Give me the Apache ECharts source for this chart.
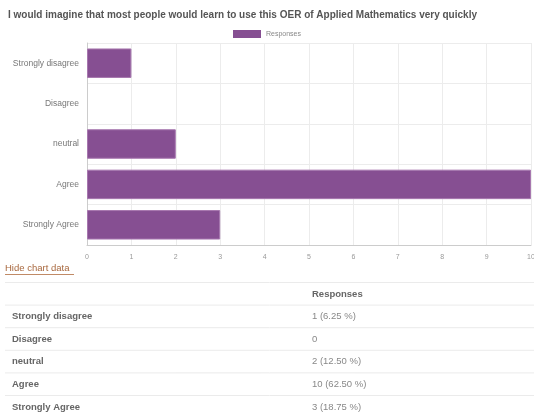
<!DOCTYPE html>
<html><head><meta charset="utf-8">
<script src="https://cdn.jsdelivr.net/npm/echarts@6/dist/echarts.min.js"></script>
<style>html,body{margin:0;padding:0;background:#fff}#c{width:534px;height:414px}</style>
</head><body><div id="c"></div>
<script>
const title = 'I would imagine that most people would learn to use this OER of Applied Mathematics very quickly';
const seriesName = 'Responses';
const categories = ['Strongly disagree', 'Disagree', 'neutral', 'Agree', 'Strongly Agree'];
const values = [1, 0, 2, 10, 3];
const xTicks = [0, 1, 2, 3, 4, 5, 6, 7, 8, 9, 10];

const total = values.reduce((a, b) => a + b, 0);
const cellText = values.map(v => v === 0 ? '0' : v + ' (' + (v / total * 100).toFixed(2) + ' %)');

const barColor = '#864f92';
const graphics = [];
graphics.push({type:'text', left:5, top:263, style:{text:'Hide chart data', fill:'#a8683e', font:'9.5px "Liberation Sans", Arial'}});
graphics.push({type:'line', shape:{x1:5,y1:274.5,x2:74,y2:274.5}, style:{stroke:'#c08a66', lineWidth:1}});
const rowTop = 282.5, rowH = 22.6;
graphics.push({type:'line', shape:{x1:5,y1:rowTop,x2:534,y2:rowTop}, style:{stroke:'#ebebeb', lineWidth:1}});
graphics.push({type:'text', x:312, y:rowTop + 11.5, style:{text:seriesName, fill:'#666', font:'bold 9.5px "Liberation Sans", Arial', verticalAlign:'middle'}});
categories.forEach((c, i) => {
  const y = rowTop + rowH * (i + 1);
  graphics.push({type:'line', shape:{x1:5,y1:y,x2:534,y2:y}, style:{stroke:'#ebebeb', lineWidth:1}});
  graphics.push({type:'text', x:12, y:y + 11.5, style:{text:c, fill:'#666', font:'bold 9.5px "Liberation Sans", Arial', verticalAlign:'middle'}});
  graphics.push({type:'text', x:312, y:y + 11.5, style:{text:cellText[i], fill:'#888', font:'9.5px "Liberation Sans", Arial', verticalAlign:'middle'}});
});

const chart = echarts.init(document.getElementById('c'));
chart.setOption({
  animation: false,
  title: {text: title, left: 3, top: 5, textStyle: {fontSize: 10, fontWeight: 'bold', color: '#555', fontFamily: '"Liberation Sans", Arial'}},
  legend: {data: [{name: seriesName, icon: 'rect'}], top: 25, left: 'center', itemWidth: 28, itemHeight: 8, itemGap: 5,
    itemStyle: {borderWidth: 0},
    textStyle: {fontSize: 7, color: '#888', fontFamily: '"Liberation Sans", Arial'}},
  grid: {left: 87, right: 3, top: 43, bottom: 169, containLabel: false, outerBoundsMode: 'none'},
  xAxis: {type: 'value', min: xTicks[0], max: xTicks[xTicks.length - 1], interval: 1,
    axisLine: {show: true, lineStyle: {color: '#ccc'}}, axisTick: {show: false},
    splitLine: {lineStyle: {color: '#ececec'}},
    axisLabel: {fontSize: 7, color: '#999', margin: 9, fontFamily: '"Liberation Sans", Arial'}},
  yAxis: {type: 'category', data: categories, inverse: true,
    axisLine: {show: true, lineStyle: {color: '#ccc'}}, axisTick: {show: false},
    splitLine: {show: true, lineStyle: {color: '#ececec'}},
    axisLabel: {fontSize: 8.5, color: '#777', margin: 8, fontFamily: '"Liberation Sans", Arial'}},
  series: [{name: seriesName, type: 'bar', barCategoryGap: '27%',
    data: values.map(v => v === 0 ? {value: v, itemStyle: {borderWidth: 0}} : v),
    itemStyle: {color: barColor, borderColor: '#a777af', borderWidth: 1}}],
  graphic: graphics
});
</script></body></html>
